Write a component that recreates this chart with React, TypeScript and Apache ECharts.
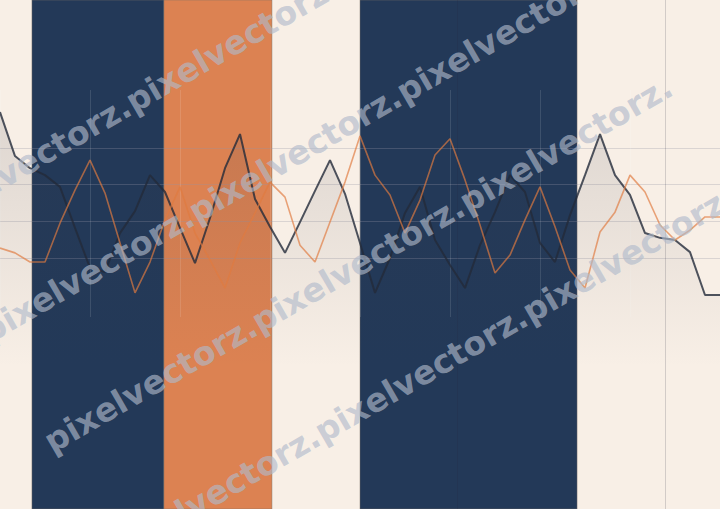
import React, { useEffect, useRef } from "react";
import * as echarts from "echarts";

// ---- data ----
const xIndex: number[] = Array.from({ length: 49 }, (_, i) => i);

const darkValues: number[] = [
  69.8, 57.8, 54.5, 52.6, 49.4, 38.2, 27.3, 26.2, 36.8, 42.8,
  52.6, 48.0, 38.2, 28.6, 40.9, 54.5, 63.8, 46.1, 38.5, 31.4,
  39.8, 48.3, 56.7, 47.5, 34.1, 20.5, 30.0, 42.3, 49.4, 34.9,
  28.1, 21.8, 33.5, 42.5, 52.6, 48.0, 34.1, 28.9, 41.7, 52.6,
  63.8, 52.6, 47.2, 36.8, 35.5, 34.9, 31.6, 19.9, 19.9,
];

const orangeValues: number[] = [
  32.7, 31.4, 28.9, 28.9, 39.5, 48.5, 56.7, 47.7, 34.1, 20.5,
  28.9, 40.4, 49.4, 36.8, 29.5, 21.8, 34.1, 42.3, 50.7, 46.6,
  33.5, 28.9, 39.8, 50.7, 63.3, 52.6, 47.2, 36.8, 45.8, 58.1,
  62.5, 51.3, 39.0, 25.9, 30.8, 40.4, 49.4, 38.5, 26.7, 21.8,
  37.1, 42.5, 52.6, 48.0, 39.0, 34.9, 37.6, 41.2, 41.2,
];

const bandStarts: number[] = [2.13, 10.93, 24.0];
const bandEnds: number[] = [10.93, 18.13, 38.47];
const bandKinds: string[] = ["navy", "orange", "navy"];

const refLineX: number[] = [30.47, 44.33];

const gridYTicks: number[] = [30, 40, 50, 60];

const watermarkText = "pixelvectorz.pixelvectorz.pixelvectorz.";

// ---- styles ----
const CREAM = "#F8EFE6";
const BAND_COLORS: Record<string, string> = { navy: "#233958", orange: "#DC8252" };

export default function App() {
  const ref = useRef<HTMLDivElement>(null);

  useEffect(() => {
    if (!ref.current) return;
    const chart = echarts.init(ref.current, null, { renderer: "svg" });

    const darkData = xIndex.map((x, i) => [x, darkValues[i]]);
    const orangeData = xIndex.map((x, i) => [x, orangeValues[i]]);

    const stripeStarts = [
      [-71, 238],
      [-8, 348],
      [55, 458],
      [118, 568],
    ];
    const angle = (30 * Math.PI) / 180;

    const option: any = {
      animation: false,
      backgroundColor: CREAM,
      grid: [
        { left: 0, right: 0, top: 0, bottom: 0 },
        { left: 0, right: 0, top: 148, height: 110 },
        { left: 0, right: 0, top: 90, height: 227 },
      ],
      xAxis: [
        { gridIndex: 0, type: "value", min: 0, max: 48, show: false },
        { gridIndex: 1, type: "value", min: 0, max: 1, show: false },
        {
          gridIndex: 2,
          type: "value",
          min: 0,
          max: 720,
          interval: 90,
          z: 2,
          axisLine: { show: false },
          axisTick: { show: false },
          axisLabel: { show: false },
          splitLine: { show: true, lineStyle: { color: "rgba(255,255,255,0.12)", width: 1 } },
        },
      ],
      yAxis: [
        { gridIndex: 0, type: "value", min: -38.45, max: 100.36, show: false },
        {
          gridIndex: 1,
          type: "value",
          min: gridYTicks[0],
          max: gridYTicks[gridYTicks.length - 1],
          interval: 10,
          z: 2,
          axisLine: { show: false },
          axisTick: { show: false },
          axisLabel: { show: false },
          splitLine: { show: true, lineStyle: { color: "rgba(150,150,165,0.3)", width: 1 } },
        },
        { gridIndex: 2, type: "value", min: 0, max: 1, show: false },
      ],
      series: [
        {
          type: "line",
          xAxisIndex: 0,
          yAxisIndex: 0,
          data: darkData,
          symbol: "none",
          silent: true,
          z: 0,
          lineStyle: { opacity: 0 },
          markArea: {
            silent: true,
            z: 0,
            data: bandStarts.map((s, i) => [
              {
                xAxis: s,
                itemStyle: {
                  color: BAND_COLORS[bandKinds[i]],
                  borderColor: "rgba(120,110,105,0.45)",
                  borderWidth: 1,
                },
              },
              { xAxis: bandEnds[i] },
            ]),
          },
          markLine: {
            silent: true,
            z: 2,
            symbol: "none",
            label: { show: false },
            lineStyle: { color: "rgba(40,40,60,0.18)", type: "solid", width: 1 },
            data: refLineX.map((v) => ({ xAxis: v })),
          },
        },
        { type: "line", xAxisIndex: 1, yAxisIndex: 1, data: [], silent: true },
        { type: "line", xAxisIndex: 2, yAxisIndex: 2, data: [], silent: true },
        {
          type: "line",
          xAxisIndex: 0,
          yAxisIndex: 0,
          data: darkData,
          symbol: "none",
          silent: true,
          z: 3,
          lineStyle: { color: "#232a39", width: 2, opacity: 0.8 },
          areaStyle: {
            color: new echarts.graphic.LinearGradient(0, 0, 0, 1, [
              { offset: 0, color: "rgba(60,62,75,0.2)" },
              { offset: 0.6, color: "rgba(60,62,75,0.08)" },
              { offset: 1, color: "rgba(60,62,75,0)" },
            ]),
          },
        },
        {
          type: "line",
          xAxisIndex: 0,
          yAxisIndex: 0,
          data: orangeData,
          symbol: "none",
          silent: true,
          z: 4,
          lineStyle: { color: "#e07a40", width: 1.6, opacity: 0.68 },
        },
      ],
      graphic: stripeStarts.map(([x, y]) => ({
        type: "text",
        x,
        y,
        rotation: angle,
        z: 100,
        silent: true,
        style: {
          text: watermarkText,
          font: 'bold 33px "DejaVu Sans"',
          fill: "rgba(176,186,203,0.65)",
          align: "left",
          verticalAlign: "bottom",
          shadowColor: "rgba(0,0,0,0.35)",
          shadowBlur: 1,
          shadowOffsetX: 1.5,
          shadowOffsetY: 1.5,
        },
      })),
    };

    chart.setOption(option);
    return () => chart.dispose();
  }, []);

  return (
    <div
      ref={ref}
      style={{ position: "fixed", left: 0, top: 0, width: 720, height: 509 }}
    />
  );
}
